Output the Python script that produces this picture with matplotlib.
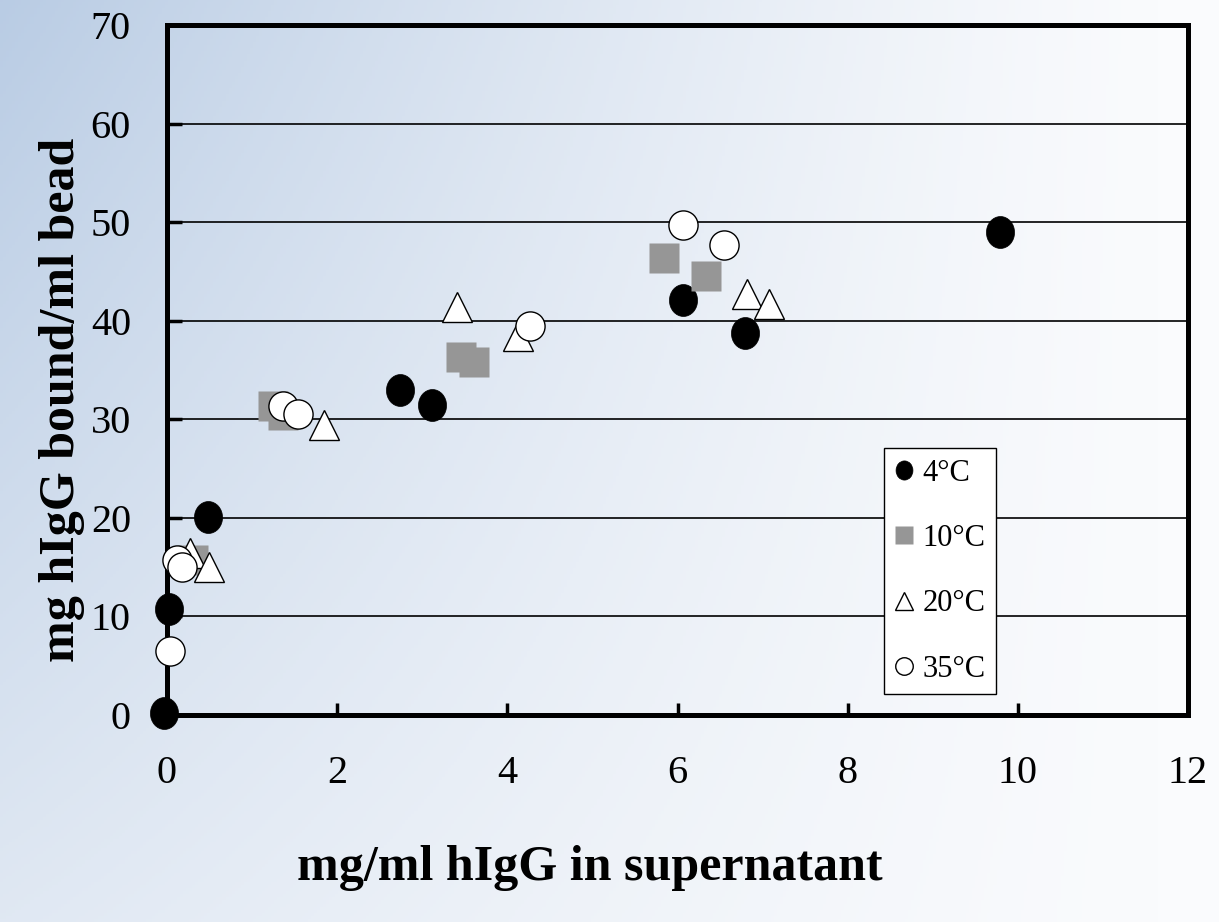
import numpy as np
import matplotlib
matplotlib.use("Agg")
import matplotlib.pyplot as plt
from matplotlib.path import Path
from matplotlib.transforms import Affine2D

# ---- data ----
x_4 = [-0.03, 0.02, 0.48, 2.74, 3.12, 6.07, 6.79, 9.79]
y_4 = [0.2, 10.8, 20.1, 33.0, 31.4, 42.1, 38.8, 49.0]

x_10 = [0.31, 1.24, 1.36, 3.46, 3.61, 5.84, 6.34]
y_10 = [15.7, 31.3, 30.4, 36.3, 35.8, 46.4, 44.5]

x_20 = [0.27, 0.49, 1.84, 3.41, 4.13, 6.82, 7.07]
y_20 = [16.4, 15.0, 29.4, 41.4, 38.5, 42.7, 41.7]

x_35 = [0.04, 0.12, 0.18, 1.36, 1.54, 4.27, 6.07, 6.55]
y_35 = [6.5, 15.7, 15.0, 31.3, 30.5, 39.5, 49.7, 47.7]

labels = ["4°C", "10°C", "20°C", "35°C"]
xticks = [0, 2, 4, 6, 8, 10, 12]
yticks = [0, 10, 20, 30, 40, 50, 60, 70]

W, H = 1219, 922
fig = plt.figure(figsize=(W / 100, H / 100), dpi=100)

# background gradient
xx = np.linspace(0, 1, 400)[None, :]
yy = np.linspace(0, 1, 300)[:, None]
b = np.clip(1 - xx / 0.95, 0, 1) ** 1.2 * (1 - 0.6 * yy)
white = np.array([250, 251, 253]) / 255.0
delta = np.array([65, 47, 25]) / 255.0
img = white[None, None, :] - b[:, :, None] * delta[None, None, :]
bg = fig.add_axes([0, 0, 1, 1], zorder=-10)
bg.imshow(img, aspect="auto", extent=[0, 1, 0, 1], origin="upper")
bg.axis("off")

serif = ["Liberation Serif", "DejaVu Serif"]

ax = fig.add_axes([167 / W, 1 - 715 / H, (1188 - 167) / W, (715 - 25) / H])
ax.patch.set_alpha(0)
ax.set_xlim(0, 12)
ax.set_ylim(0, 70)

for yv in yticks[1:-1]:
    ax.axhline(yv, color="black", lw=1.2, zorder=1)

ellipse = Path.unit_circle().transformed(Affine2D().scale(0.88, 1.0))

ax.plot(x_4, y_4, ls="none", marker=ellipse, ms=23, mfc="black", mec="black",
        mew=0.5, clip_on=False, zorder=3, label=labels[0])
ax.plot(x_10, y_10, ls="none", marker="s", ms=21, mfc="#969696", mec="none",
        clip_on=False, zorder=3, label=labels[1])
ax.plot(x_20, y_20, ls="none", marker="^", ms=22, mfc="white", mec="black",
        mew=1.0, clip_on=False, zorder=3, label=labels[2])
ax.plot(x_35, y_35, ls="none", marker="o", ms=21, mfc="white", mec="black",
        mew=1.0, clip_on=False, zorder=3, label=labels[3])

for s in ax.spines.values():
    s.set_linewidth(3.6)
    s.set_zorder(2)

ax.set_xticks(xticks)
ax.set_yticks(yticks)
ax.tick_params(axis="x", direction="in", length=9, width=2.5, pad=29,
               labelsize=29)
ax.tick_params(axis="y", direction="in", length=11, width=2.5, pad=26,
               labelsize=29)
for t in ax.get_xticklabels() + ax.get_yticklabels():
    t.set_family(serif)

fig.text(590 / W, 1 - 868 / H, "mg/ml hIgG in supernatant", ha="center",
         va="center", fontsize=36, fontweight="bold", family=serif)
fig.text(62 / W, 1 - 400 / H, "mg hIgG bound/ml bead", ha="center",
         va="center", rotation=90, fontsize=36, fontweight="bold",
         family=serif)

leg = ax.legend(loc="upper left", bbox_to_anchor=(884 / W, 1 - 448 / H),
                bbox_transform=fig.transFigure, markerscale=0.6,
                prop={"family": serif, "size": 22}, frameon=True,
                fancybox=False, edgecolor="black", framealpha=1,
                handlelength=0.6, handletextpad=0.3, labelspacing=1.19,
                borderpad=0.35, borderaxespad=0)
leg.get_frame().set_linewidth(1.0)
leg.set_zorder(5)

fig.savefig("out.png", dpi=100)
